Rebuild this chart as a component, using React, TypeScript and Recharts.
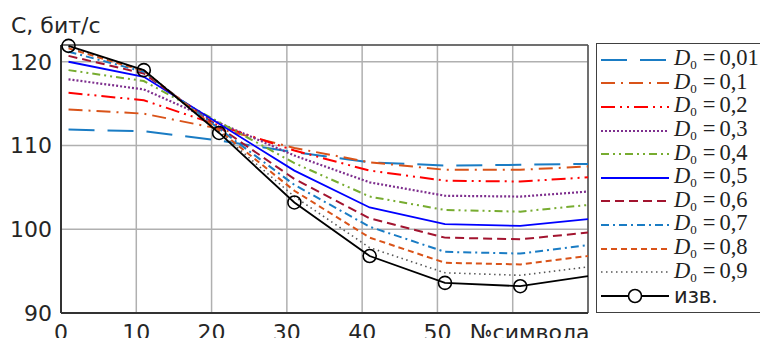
import React from "react";
import { LineChart, Line, XAxis, YAxis, CartesianGrid, Legend, ReferenceLine } from "recharts";

const xValues = [1, 11, 21, 31, 41, 51, 61, 70];
const d001 = [111.9, 111.7, 110.6, 109.2, 108.0, 107.6, 107.7, 107.8];
const d01 = [114.3, 113.8, 112.0, 109.7, 108.0, 107.1, 107.1, 107.5];
const d02 = [116.3, 115.4, 112.4, 109.4, 107.0, 105.8, 105.7, 106.2];
const d03 = [117.9, 116.7, 112.7, 108.8, 105.6, 104.0, 103.9, 104.5];
const d04 = [119.0, 117.7, 112.8, 107.9, 103.9, 102.3, 102.1, 102.9];
const d05 = [120.0, 118.2, 112.6, 107.0, 102.6, 100.6, 100.4, 101.2];
const d06 = [120.7, 118.6, 112.2, 106.0, 101.3, 99.0, 98.8, 99.6];
const d07 = [121.2, 118.8, 112.0, 105.3, 100.3, 97.3, 97.1, 98.1];
const d08 = [121.6, 118.9, 111.8, 104.6, 99.0, 96.0, 95.8, 96.8];
const d09 = [121.8, 119.0, 111.6, 103.9, 97.8, 94.8, 94.5, 95.5];
const izv = [121.9, 119.0, 111.5, 103.2, 96.8, 93.6, 93.2, 94.4];

const xTicks = [0, 10, 20, 30, 40, 50, 60];
const yTicks = [90, 100, 110, 120];
const xLabel = "№символа";
const yLabel = "С, бит/с";

const seriesDefs = [
  { key: "d001", label: "0,01", values: d001, color: "#1a7cc4", dash: "26 13", width: 2 },
  { key: "d01", label: "0,1", values: d01, color: "#D95319", dash: "14 6 2 6", width: 2 },
  { key: "d02", label: "0,2", values: d02, color: "#FF0000", dash: "14 5 2 5 2 5", width: 2 },
  { key: "d03", label: "0,3", values: d03, color: "#7E2F8E", dash: "2 2", width: 2.2 },
  { key: "d04", label: "0,4", values: d04, color: "#77AC30", dash: "8 4 2 4 2 4", width: 2 },
  { key: "d05", label: "0,5", values: d05, color: "#0000FF", dash: undefined, width: 1.8 },
  { key: "d06", label: "0,6", values: d06, color: "#A2142F", dash: "9 5", width: 2 },
  { key: "d07", label: "0,7", values: d07, color: "#1a7cc4", dash: "8 4 2 4", width: 2 },
  { key: "d08", label: "0,8", values: d08, color: "#D95319", dash: "6 4", width: 2 },
  { key: "d09", label: "0,9", values: d09, color: "#555555", dash: "1.5 3.5", width: 1.6 },
];

const data = xValues.map((x, i) => {
  const row: any = { x, izv: izv[i] };
  seriesDefs.forEach((s) => {
    row[s.key] = s.values[i];
  });
  return row;
});

const tickFont = { fontFamily: "DejaVu Sans", fontSize: 22, fill: "#262626" };

const XTick = (props: any) => {
  const { x, y, payload } = props;
  if (payload.value === 60) {
    return (
      <text x={x - 43} y={y} dy="0.71em" textAnchor="start" {...tickFont}>
        {xLabel}
      </text>
    );
  }
  return (
    <text x={x} y={y} dy="0.71em" textAnchor="middle" {...tickFont}>
      {payload.value}
    </text>
  );
};

const LegendContent = () => (
  <div
    style={{
      boxSizing: "border-box",
      width: 172,
      height: 270,
      border: "1.5px solid #404040",
      borderRight: "none",
      background: "#fff",
      paddingTop: 4,
    }}
  >
    {seriesDefs.map((s) => (
      <div key={s.key} style={{ height: 23.6, display: "flex", alignItems: "center", whiteSpace: "nowrap" }}>
        <svg width={68} height={14} style={{ marginLeft: 4, flex: "none" }}>
          <line x1={0} y1={7} x2={68} y2={7} stroke={s.color} strokeWidth={s.width} strokeDasharray={s.dash} />
        </svg>
        <span style={{ marginLeft: 5, fontFamily: "Liberation Serif", fontSize: 22.5, color: "#222", lineHeight: "20px" }}>
          <i>D</i>
          <span style={{ fontSize: 13, position: "relative", top: 4 }}>0</span>
          <span style={{ marginLeft: 6 }}>=</span>
          <span style={{ marginLeft: 4 }}>{s.label}</span>
        </span>
      </div>
    ))}
    <div style={{ height: 23.6, display: "flex", alignItems: "center", whiteSpace: "nowrap" }}>
      <svg width={68} height={16} style={{ marginLeft: 4, flex: "none" }}>
        <line x1={0} y1={8} x2={68} y2={8} stroke="#000" strokeWidth={1.8} />
        <circle cx={34} cy={8} r={6.5} fill="#fff" stroke="#000" strokeWidth={1.6} />
      </svg>
      <span style={{ marginLeft: 5, fontFamily: "DejaVu Sans", fontSize: 21, color: "#222" }}>изв.</span>
    </div>
  </div>
);

const IzvDot = (props: any) => {
  const { cx, cy, index } = props;
  if (index >= 7) return <g key={"d" + index} />;
  return <circle key={"d" + index} cx={cx} cy={cy} r={6.5} fill="none" stroke="#000" strokeWidth={1.6} />;
};

export default function App() {
  return (
    <div style={{ margin: -8, width: 768, height: 346, background: "#fff", position: "relative", overflow: "hidden" }}>
      <LineChart
        width={768}
        height={346}
        data={data}
        margin={{ top: 45, right: 8, left: 0, bottom: 0 }}
      >
        <CartesianGrid stroke="#b0b0b0" strokeWidth={1.5} />
        <XAxis
          dataKey="x"
          type="number"
          domain={[0, 70]}
          ticks={xTicks}
          height={33}
          tickLine={false}
          tickSize={0}
          tickMargin={11}
          axisLine={{ stroke: "#333", strokeWidth: 2 }}
          tick={<XTick />}
          interval={0}
        />
        <YAxis
          type="number"
          domain={[90, 122]}
          ticks={yTicks}
          width={61}
          tickLine={false}
          tickSize={0}
          tickMargin={9}
          axisLine={{ stroke: "#333", strokeWidth: 2 }}
          tick={tickFont}
          interval={0}
          label={{ value: yLabel, position: "top", offset: 0, content: (p: any) => (
            <text x={11} y={33} textAnchor="start" {...tickFont}>{yLabel}</text>
          ) }}
        />
        <ReferenceLine y={122} stroke="#555" strokeWidth={1.5} />
        <ReferenceLine x={70} stroke="#555" strokeWidth={1.5} />
        {seriesDefs.map((s) => (
          <Line
            key={s.key}
            dataKey={s.key}
            type="linear"
            stroke={s.color}
            strokeWidth={s.width}
            strokeDasharray={s.dash}
            dot={false}
            isAnimationActive={false}
          />
        ))}
        <Line
          dataKey="izv"
          type="linear"
          stroke="#000"
          strokeWidth={1.8}
          dot={IzvDot}
          isAnimationActive={false}
        />
        <Legend
          layout="vertical"
          align="right"
          verticalAlign="top"
          width={172}
          content={<LegendContent />}
          wrapperStyle={{ position: "absolute", left: 596, top: 43, width: 172, height: 270 }}
        />
      </LineChart>
    </div>
  );
}
